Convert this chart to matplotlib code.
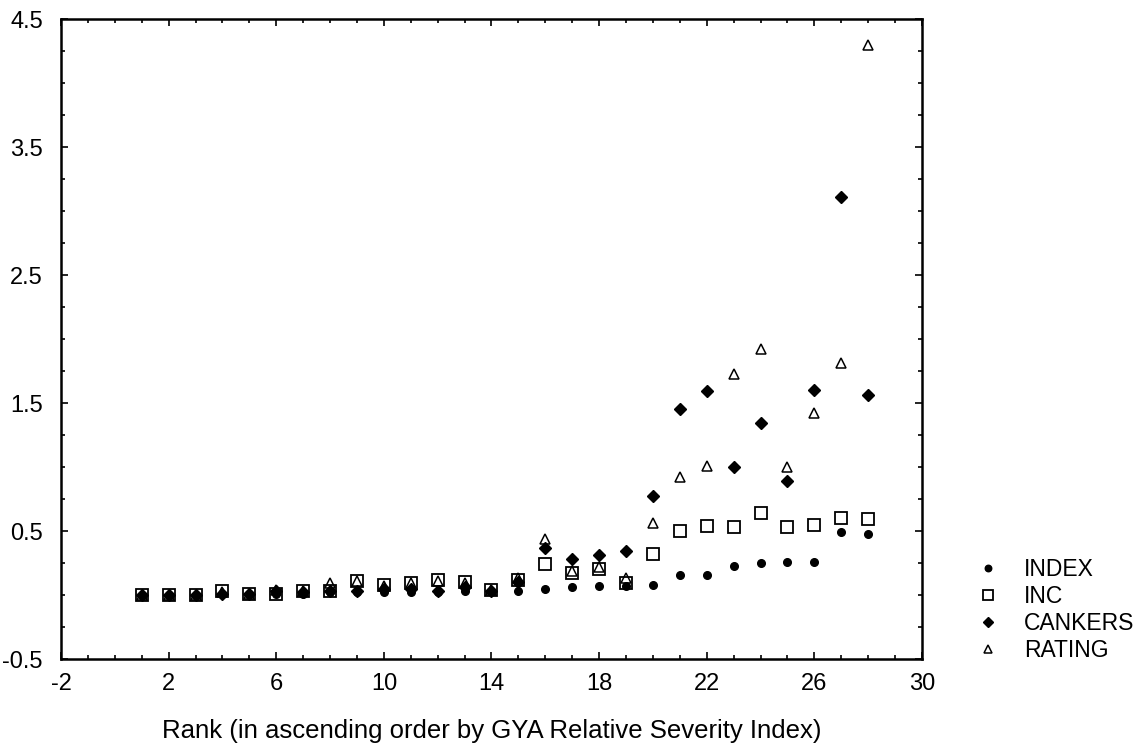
import numpy as np
import matplotlib.pyplot as plt
from matplotlib.ticker import MultipleLocator, FixedLocator

plt.rcParams['font.family'] = ['Liberation Sans', 'DejaVu Sans']
plt.rcParams['axes.unicode_minus'] = False

rank = np.arange(1, 29)
index = [0.0, 0.0, 0.0, 0.01, 0.01, 0.01, 0.01, 0.02, 0.02, 0.02, 0.02, 0.02, 0.03, 0.03,
         0.03, 0.05, 0.06, 0.07, 0.07, 0.08, 0.16, 0.16, 0.23, 0.25, 0.26, 0.26, 0.49, 0.48]
inc = [0.0, 0.0, 0.0, 0.03, 0.01, 0.01, 0.03, 0.03, 0.11, 0.08, 0.09, 0.12, 0.10, 0.04,
       0.12, 0.24, 0.17, 0.20, 0.09, 0.32, 0.50, 0.54, 0.53, 0.64, 0.53, 0.55, 0.60, 0.59]
cankers = [0.0, 0.0, 0.0, 0.01, 0.01, 0.03, 0.02, 0.03, 0.03, 0.05, 0.05, 0.03, 0.06, 0.03,
           0.10, 0.37, 0.28, 0.31, 0.34, 0.77, 1.45, 1.59, 1.00, 1.34, 0.89, 1.60, 3.11, 1.56]
rating = [0.0, 0.0, 0.0, 0.02, 0.01, 0.04, 0.03, 0.09, 0.11, 0.07, 0.09, 0.11, 0.09, 0.04,
          0.13, 0.44, 0.19, 0.22, 0.13, 0.56, 0.92, 1.01, 1.73, 1.92, 1.00, 1.42, 1.81, 4.30]

x_ticks = np.arange(-2, 31, 4)
y_ticks = np.arange(-0.5, 4.6, 1.0)

fig = plt.figure(figsize=(11.43, 7.46), dpi=100)
ax = fig.add_axes([0.0534, 0.1166, 0.7532, 0.8579])

ax.plot(rank, index, linestyle='none', marker='o', markersize=5.5, color='black', label='INDEX')
ax.plot(rank, inc, linestyle='none', marker='s', markersize=8.5, markerfacecolor='none',
        markeredgecolor='black', markeredgewidth=1.3, label='INC')
ax.plot(rank, cankers, linestyle='none', marker='D', markersize=6.5, color='black', label='CANKERS')
ax.plot(rank, rating, linestyle='none', marker='^', markersize=7.5, markerfacecolor='none',
        markeredgecolor='black', markeredgewidth=1.1, label='RATING')

ax.set_xlim(-2, 30)
ax.set_ylim(-0.5, 4.5)
ax.xaxis.set_major_locator(FixedLocator(x_ticks))
ax.xaxis.set_minor_locator(MultipleLocator(1))
ax.yaxis.set_major_locator(FixedLocator(y_ticks))
ax.yaxis.set_minor_locator(MultipleLocator(0.25))
ax.set_xticklabels([f'{t:g}' for t in x_ticks])
ax.set_yticklabels([f'{t:g}' for t in y_ticks])
ax.tick_params(which='both', direction='in', top=True, right=True, labelsize=17, width=1.2)
ax.tick_params(which='major', length=5)
ax.tick_params(axis='x', which='major', pad=10)
ax.tick_params(axis='y', which='major', pad=13)
ax.tick_params(which='minor', length=3)
for spine in ax.spines.values():
    spine.set_linewidth(1.8)

ax.set_xlabel('Rank (in ascending order by GYA Relative Severity Index)', fontsize=18.5, labelpad=17)

fig.legend(loc='upper left', bbox_to_anchor=(0.836, 0.279), frameon=False, fontsize=16.5,
           handletextpad=1.1, labelspacing=0.17, markerscale=0.85, handlelength=1.0)

fig.savefig('out.png', dpi=100)
